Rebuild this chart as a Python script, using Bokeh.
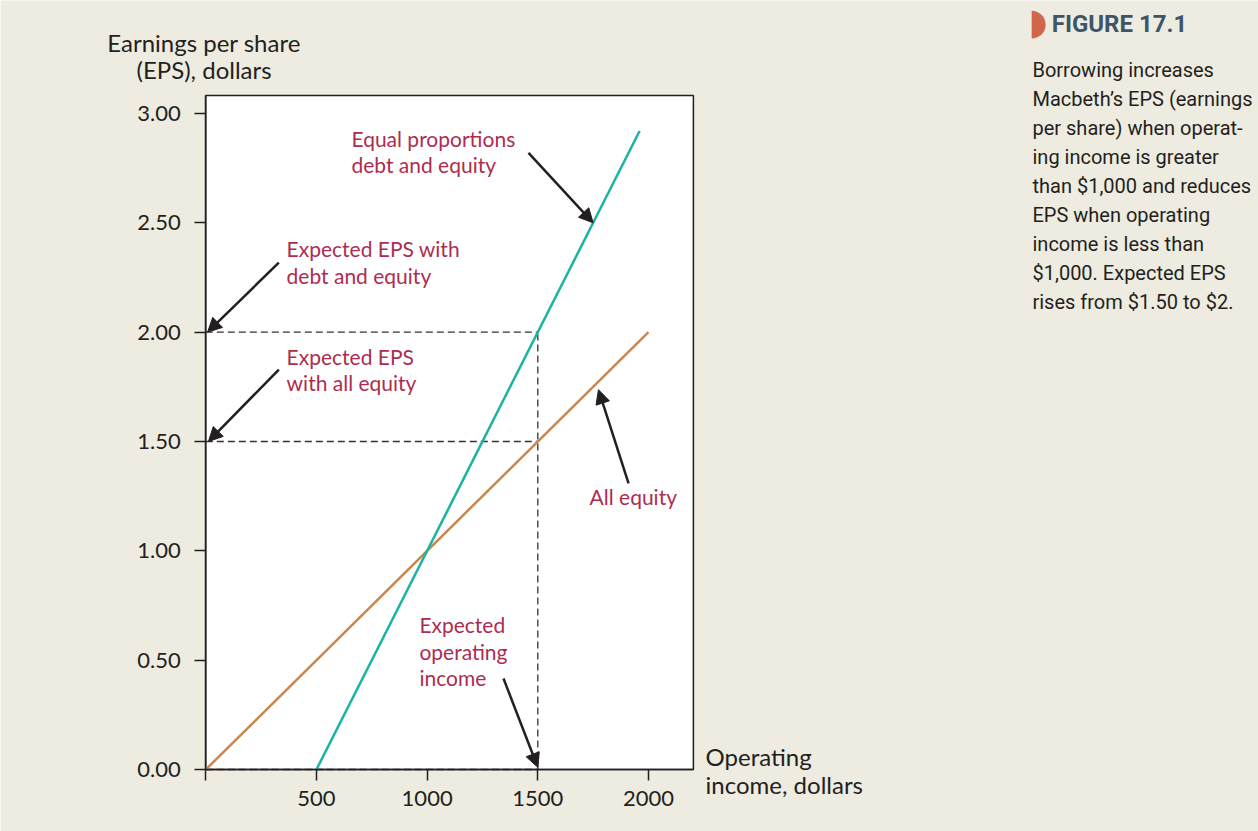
from bokeh.plotting import figure
from bokeh.models import Range1d, FixedTicker, Label, Arrow, NormalHead, BoxAnnotation
from bokeh.embed import file_html
from bokeh.resources import INLINE

# ---- data ----
income_all_equity = [0, 2000]
eps_all_equity = [0.0, 2.0]
income_debt_equity = [500, 1960]
eps_debt_equity = [0.0, 2.92]
expected_income = 1500
expected_eps_equity = 1.5
expected_eps_debt = 2.0
x_ticks = [0, 500, 1000, 1500, 2000]
y_ticks = [0.0, 0.5, 1.0, 1.5, 2.0, 2.5, 3.0]
caption_title = "FIGURE 17.1"
caption_lines = [
    "Borrowing increases",
    "Macbeth\u2019s EPS (earnings",
    "per share) when operat-",
    "ing income is greater",
    "than $1,000 and reduces",
    "EPS when operating",
    "income is less than",
    "$1,000. Expected EPS",
    "rises from $1.50 to $2.",
]

BG = "#EEEBE0"
TEAL = "#1BB3A6"
ORANGE = "#C8874F"
RED = "#AD2D50"
INK = "#231F20"
FONT = "Lato"

# plotting box (data units)
BOX_X = (0, 2203)
BOX_Y = (0, 3.082)

p = figure(width=1258, height=831, output_backend="svg", toolbar_location=None,
           title=None,
           x_range=Range1d(-927.6, 4756.2), y_range=Range1d(-0.2835, 3.5167),
           min_border=0, min_border_left=0, min_border_right=0,
           min_border_top=0, min_border_bottom=0)
p.border_fill_color = BG
p.background_fill_color = BG
p.outline_line_color = None
p.grid.visible = False

p.add_layout(BoxAnnotation(left=BOX_X[0], right=BOX_X[1], bottom=BOX_Y[0], top=BOX_Y[1],
                           fill_color="white", fill_alpha=1.0, line_color=INK,
                           line_width=1.5, line_alpha=1.0, level="underlay"))

for ax in (p.xaxis[0], p.yaxis[0]):
    ax.fixed_location = 0
    ax.axis_line_color = INK
    ax.axis_line_width = 1.5
    ax.major_tick_line_color = INK
    ax.major_tick_line_width = 1.5
    ax.major_tick_out = 11
    ax.major_tick_in = 0
    ax.minor_tick_line_color = None
    ax.major_label_text_font = FONT
    ax.major_label_text_font_size = "22px"
    ax.major_label_text_color = INK

p.xaxis.bounds = BOX_X
p.yaxis.bounds = BOX_Y
p.xaxis.ticker = FixedTicker(ticks=x_ticks)
p.xaxis.major_label_overrides = {0: ""}
p.xaxis.major_label_standoff = 10
p.yaxis.ticker = FixedTicker(ticks=y_ticks)
p.yaxis.major_label_overrides = {t: f"{t:.2f}" for t in y_ticks}
p.yaxis.major_label_standoff = 14

# dashed guide lines
dash = dict(line_color="#333333", line_width=1.3, line_dash="7 4")
p.line([0, expected_income], [expected_eps_debt, expected_eps_debt], **dash)
p.line([0, expected_income], [expected_eps_equity, expected_eps_equity], **dash)
p.line([expected_income, expected_income], [0, expected_eps_debt], **dash)
p.line([0, expected_income], [0, 0], **dash)

# main lines
p.line(income_all_equity, eps_all_equity, line_color=ORANGE, line_width=2.5)
p.line(income_debt_equity, eps_debt_equity, line_color=TEAL, line_width=2.5)

# arrows
arrows = [
    ((1458, 2.82), (1750, 2.5)),
    ((330, 2.318), (8, 2.0)),
    ((330, 1.829), (12, 1.5)),
    ((1910, 1.308), (1774, 1.737)),
    ((1345, 0.416), (1500, 0.01)),
]
for (x0, y0), (x1, y1) in arrows:
    p.add_layout(Arrow(x_start=x0, y_start=y0, x_end=x1, y_end=y1,
                       line_color=INK, line_width=2.5,
                       end=NormalHead(size=14, fill_color=INK, line_color=INK, line_width=1)))


def lab(x, y, text, color=RED, size="21px", align="left", font=FONT, style="normal"):
    p.add_layout(Label(x=x, y=y, text=text, text_color=color, text_font=font,
                       text_font_size=size, text_align=align, text_baseline="middle",
                       text_font_style=style))


lab(658, 2.886, "Equal proportions")
lab(658, 2.767, "debt and equity")
lab(365, 2.383, "Expected EPS with")
lab(365, 2.259, "debt and equity")
lab(365, 1.889, "Expected EPS")
lab(365, 1.770, "with all equity")
lab(1734, 1.248, "All equity")
lab(965, 0.663, "Expected")
lab(965, 0.540, "operating")
lab(965, 0.421, "income")

# axis titles
lab(-8, 3.325, "Earnings per share", color=INK, size="24px", align="center")
lab(-8, 3.199, "(EPS), dollars", color=INK, size="24px", align="center")
lab(2258, 0.059, "Operating", color=INK, size="24px")
lab(2258, -0.069, "income, dollars", color=INK, size="24px")

# caption
lab(3717, 3.421, "\u25D7", color="#D0664A", size="36px", font="DejaVu Sans")
lab(3822, 3.407, caption_title, color="#3D5667", size="24px", font="Roboto", style="bold")
for i, line in enumerate(caption_lines):
    lab(3735, 3.197 - i * 0.1325, line, color=INK, size="20px", font="Roboto")

open("out.html", "w").write(file_html(p, INLINE))
